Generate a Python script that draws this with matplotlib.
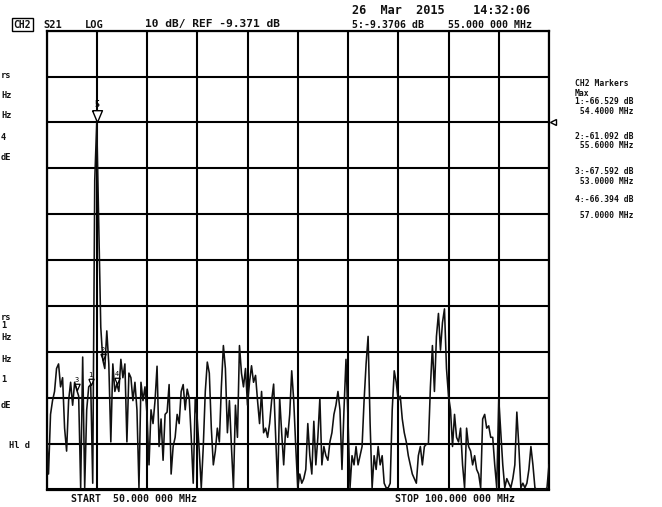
import numpy as np
import matplotlib
matplotlib.use('Agg')
import matplotlib.pyplot as plt
from matplotlib.path import Path
from matplotlib.transforms import offset_copy

W, H = 662, 507

start_mhz = 50.0
stop_mhz = 100.0
ref_db = -9.371
db_per_div = 10
ref_div = 8          # reference line, divisions above the bottom

# S21 trace, one value every 0.2 MHz from START to STOP
s21_db = [
    -76, -86, -73, -70, -68, -63, -62, -67, -65, -76,
    -81, -70, -66, -71, -66, -67.6, -69, -89, -60.5, -89,
    -72, -67, -66.5, -88, -22, -9.37, -32, -54, -61.1, -63,
    -54.8, -62, -79, -62, -68, -66.4, -68, -61, -65, -62,
    -79, -64, -65, -70, -66, -72, -89, -66, -70, -67,
    -73, -84, -72, -75, -70, -62.5, -80, -74, -83, -73,
    -72.5, -66.5, -86, -80, -78, -73, -75, -68, -66.5, -72,
    -67.5, -69.4, -78, -88, -69.5, -74, -81, -89, -80, -68,
    -61.6, -64, -76, -84, -81, -76, -79, -67, -58, -63,
    -77, -70, -80, -89, -71, -78, -58, -64, -67, -63,
    -71, -66, -62.4, -66, -64.5, -70, -75, -68, -77, -76,
    -78, -75, -70, -66.4, -78, -89, -69.4, -77, -84, -76,
    -78, -73, -63.5, -70, -80, -89, -86, -88, -87, -85,
    -75, -82, -86, -74.5, -84, -78, -69.5, -84, -80, -82,
    -83, -79, -77, -73, -71, -68, -72, -85, -72, -61,
    -74, -89, -82, -84, -80, -84, -82, -80, -70, -62,
    -56, -75, -89, -82, -85, -80, -84, -82, -88, -89,
    -89, -88, -72, -63.5, -66, -70, -69, -74, -77, -79,
    -82, -84, -86, -87, -88, -82, -80, -84, -80, -79.5,
    -79.4, -67, -58, -68, -56, -51, -59, -53, -50, -63,
    -69, -72, -80, -73, -78, -79, -76, -84, -89, -76,
    -80, -81, -84, -82, -85, -86, -89, -74, -73, -76,
    -75.5, -78, -78, -84, -89, -69.6, -77, -84, -89, -87,
    -88, -89, -87, -84, -72.5, -80, -89, -88, -89, -88,
    -85, -80, -84, -89, -89.4, -89.4, -89.4, -89.4, -89.4, -89,
    -84,
]
freq_mhz = np.linspace(start_mhz, stop_mhz, len(s21_db))

peak_mhz = 55.0
peak_db = -9.3706

marker_ids = ['1', '2', '3', '4']
marker_mhz = [54.4, 55.6, 53.0, 57.0]
marker_db = [-66.529, -61.092, -67.592, -66.394]

marker_text = ['CH2 Markers', 'Max',
               '1:-66.529 dB', ' 54.4000 MHz',
               '2:-61.092 dB', ' 55.6000 MHz',
               '3:-67.592 dB', ' 53.0000 MHz',
               '4:-66.394 dB', ' 57.0000 MHz']
marker_text_y = [84, 93, 101.5, 111, 136.5, 146, 172, 181, 199, 215]

# cut-off CH1 marker block at the left edge
left_text = ['rs', 'Hz', 'Hz', '4', 'dE', 'rs', '1', 'Hz', 'Hz', '1', 'dE']
left_text_y = [75, 95, 115, 137, 158, 317, 326, 338, 360, 380, 405]

MONO = 'DejaVu Sans Mono'


def px(x, y):
    return x / W, 1 - y / H


def label(x, y, s, size=7.5, ha='left', **kw):
    fx, fy = px(x, y)
    fig.text(fx, fy, s, ha=ha, va='center', fontsize=size, family=MONO,
             fontweight='bold', color='#111111', **kw)


fig = plt.figure(figsize=(W / 100, H / 100), dpi=100)
fig.patch.set_facecolor('white')

x0, x1, y0, y1 = 46.5, 549.0, 30.7, 489.5
ax = fig.add_axes([x0 / W, 1 - y1 / H, (x1 - x0) / W, (y1 - y0) / H])

bottom_db = ref_db - ref_div * db_per_div
ax.set_xlim(start_mhz, stop_mhz)
ax.set_ylim(bottom_db, bottom_db + 10 * db_per_div)
ax.set_xticks(np.arange(start_mhz, stop_mhz + 0.1, (stop_mhz - start_mhz) / 10))
ax.set_yticks(bottom_db + db_per_div * np.arange(11))
ax.tick_params(length=0, labelbottom=False, labelleft=False)
ax.grid(True, color='black', lw=1.5)
for sp in ax.spines.values():
    sp.set_linewidth(1.6)
    sp.set_color('black')

ax.plot(freq_mhz, s21_db, color='#101010', lw=1.15, zorder=3)

# active marker 5 on the peak: open triangle with its apex on the trace
tri = Path([(-0.42, 1.0), (0.42, 1.0), (0.0, 0.0), (-0.42, 1.0)])
ax.plot([peak_mhz], [peak_db], marker=tri, ms=17, mfc='white', mec='black',
        mew=1.0, ls='none', zorder=4)
ax.annotate('5', (peak_mhz, peak_db), xytext=(0, 10), textcoords='offset points',
            ha='center', va='bottom', fontsize=6, family=MONO, fontweight='bold')

# markers 1-4
ax.plot(marker_mhz, marker_db, marker=tri, ms=9, mfc='none', mec='black',
        mew=0.9, ls='none', zorder=4)
for mid, mx, my in zip(marker_ids, marker_mhz, marker_db):
    ax.annotate(mid, (mx, my), xytext=(0, 5), textcoords='offset points',
                ha='center', va='bottom', fontsize=5, family=MONO)

# reference position arrow on the right edge
tr = offset_copy(ax.transData, fig=fig, x=4, y=0, units='dots')
ax.plot([stop_mhz], [ref_db], marker='<', ms=4.5, mfc='white', mec='black',
        mew=1.0, transform=tr, clip_on=False)

# header
label(22.5, 24.5, 'CH2', size=7, ha='center',
      bbox=dict(boxstyle='square,pad=0.15', fc='white', ec='black', lw=1.0))
label(43, 24.5, 'S21')
label(85, 24.5, 'LOG')
label(145, 24.5, '10 dB/ REF -9.371 dB', size=8.1)
label(352, 10.5, '26  Mar  2015    14:32:06', size=8.6)
label(352, 25, '5:-9.3706 dB    55.000 000 MHz', size=7.1)

# footer
label(71, 499.5, 'START  50.000 000 MHz', size=7.1)
label(395, 499.5, 'STOP 100.000 000 MHz', size=7.1)

# CH2 marker table
for s, y in zip(marker_text, marker_text_y):
    label(575, y, s, size=5.8)

for s, y in zip(left_text, left_text_y):
    label(1, y, s, size=6.2)
label(30, 445, 'Hl d', size=6.2, ha='right')

fig.savefig('out.png', dpi=100, facecolor='white')
